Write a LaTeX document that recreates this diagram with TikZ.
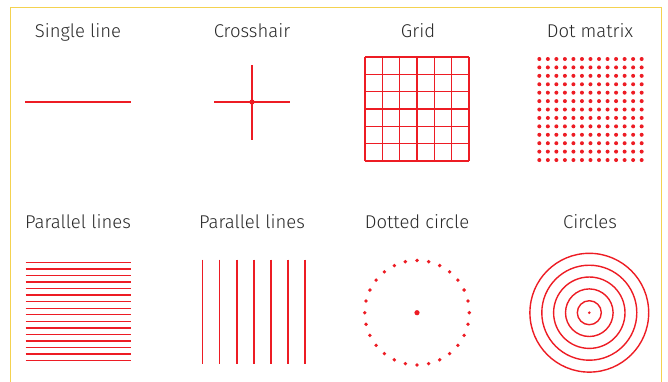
\documentclass[tikz,border=0pt]{standalone}
\usepackage{fontspec}
\setmainfont{Fira Sans}[UprightFont=* Light]
\usetikzlibrary{calc}
\definecolor{signal}{RGB}{237,28,36}
\definecolor{frameyellow}{RGB}{244,210,80}
\definecolor{ink}{RGB}{40,40,40}

\begin{document}
\begin{tikzpicture}[x=1pt, y=-1pt,
    title/.style={font=\fontsize{18.5}{22}\selectfont, text=ink, inner sep=0pt, anchor=base},
    reticle/.style={draw=signal, line width=1.4pt},
    ring/.style={draw=signal, line width=1.4pt},
    speck/.style={fill=signal}
  ]
  \useasboundingbox (0,0) rectangle (668,381);
  % frame
  \draw[draw=frameyellow, line width=1.6pt] (10.5,382) -- (10.5,7.5) -- (661.5,7.5) -- (661.5,382);

  % titles
  \node[title] (tsingle) at (78,37.5) {Single line};
  \node[title] (tcross) at (252,37.5) {Crosshair};
  \node[title] (tgrid) at (418,37.5) {Grid};
  \node[title] (tdots) at (590,37.5) {Dot matrix};
  \node[title] (thoriz) at (78,228) {Parallel lines};
  \node[title] (tvert) at (252,228) {Parallel lines};
  \node[title] (tdotcirc) at (417,228) {Dotted circle};
  \node[title] (tcircles) at (590,228) {Circles};

  % single line
  \draw[reticle] (25,102) -- (131,102);

  % crosshair
  \draw[reticle] (214,102) -- (290,102);
  \draw[reticle] (252,65) -- (252,140);
  \fill[speck] (252,102) circle[radius=2.6];

  % grid
  \foreach \i in {0,...,6} {
      \draw[reticle] (365+\i*17.333,57) -- (365+\i*17.333,161);
      \draw[reticle] (365,57+\i*17.333) -- (469,57+\i*17.333);
  }

  % dot matrix
  \foreach \i in {0,...,12}
    \foreach \j in {0,...,12}
      \fill[speck] (539.3+\i*8.53,59+\j*8.42) circle[radius=2];

  % horizontal parallel lines
  \foreach \i in {0,...,15}
    \draw[reticle] (25.5,262.3+\i*6.56) -- (131,262.3+\i*6.56);

  % vertical parallel lines
  \foreach \i in {0,...,6}
    \draw[reticle] (202.7+\i*17.05,259.5) -- (202.7+\i*17.05,364);

  % dotted circle
  \coordinate (dcc) at (417,312.7);
  \foreach \a in {0,...,27}
    \fill[speck] ($(dcc)+(\a*360/28:52.3)$) circle[radius=1.9];
  \fill[speck] (dcc) circle[radius=2.6];

  % circles
  \coordinate (cc) at (589.3,312.7);
  \foreach \r in {12,23.8,35.7,47.5,59.4}
    \draw[ring] (cc) circle[radius=\r];
  \fill[speck] (cc) circle[radius=1.4];
\end{tikzpicture}
\end{document}
